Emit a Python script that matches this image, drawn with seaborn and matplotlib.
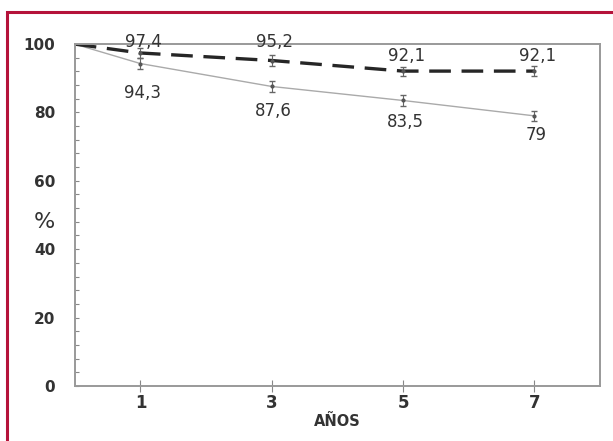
import numpy as np
import pandas as pd
import matplotlib
matplotlib.use("Agg")
import matplotlib.pyplot as plt
from matplotlib.patches import Rectangle
from matplotlib.ticker import MultipleLocator
import seaborn as sns

# survival data
years = [0, 1, 3, 5, 7]
dashed_vals = [100, 97.4, 95.2, 92.1, 92.1]
solid_vals = [100, 94.3, 87.6, 83.5, 79]
dashed_err = [0, 1.5, 1.5, 1.3, 1.5]
solid_err = [0, 1.5, 1.5, 1.6, 1.5]
dashed_labels = ["", "97,4", "95,2", "92,1", "92,1"]
solid_labels = ["", "94,3", "87,6", "83,5", "79"]

sns.set_style("white")
plt.rcParams['font.family'] = ['DejaVu Sans']

df = pd.DataFrame({"years": years, "dashed": dashed_vals, "solid": solid_vals})

fig = plt.figure(figsize=(6.13, 4.41), dpi=100)
ax = fig.add_axes([0.122, 0.125, 0.857, 0.775])

sns.lineplot(data=df, x="years", y="solid", color="#aaaaaa", linewidth=1.0, ax=ax)
sns.lineplot(data=df, x="years", y="dashed", color="#262626", linewidth=2.4,
             dashes=False, ax=ax)
ax.lines[-1].set_dashes((6.5, 3.2))

ax.errorbar(years[1:], solid_vals[1:], yerr=solid_err[1:], fmt="o", ms=2,
            color="#555555", ecolor="#666666", elinewidth=0.8, capsize=2.5)
ax.errorbar(years[1:], dashed_vals[1:], yerr=dashed_err[1:], fmt="o", ms=2,
            color="#555555", ecolor="#666666", elinewidth=0.8, capsize=2.5)

# label offsets (pixels) so the numbers sit where the original puts them
dashed_off = [0, 11, 19, 15, 15]
solid_off = [0, -29, -25, -22, -19]
for x, y, t, o in zip(years, dashed_vals, dashed_labels, dashed_off):
    if t:
        ax.annotate(t, (x, y), xytext=(3, o), textcoords="offset pixels",
                    ha="center", va="center", fontsize=12, color="#333333")
for x, y, t, o in zip(years, solid_vals, solid_labels, solid_off):
    if t:
        ax.annotate(t, (x, y), xytext=(2, o), textcoords="offset pixels",
                    ha="center", va="center", fontsize=12, color="#333333")

ax.set_xlim(0, 8)
ax.set_ylim(0, 100)
ax.set_xticks([1, 3, 5, 7])
ax.set_yticks([0, 20, 40, 60, 80, 100])
ax.yaxis.set_minor_locator(MultipleLocator(4))
ax.tick_params(axis="x", bottom=True, direction="inout", length=8, width=0.8,
               color="#888888", labelsize=12, labelcolor="#333333", pad=2)
ax.tick_params(axis="y", which="both", left=True, direction="in", length=3,
               width=0.8, color="#888888", labelsize=11, labelcolor="#333333", pad=14)
for lab in ax.get_xticklabels() + ax.get_yticklabels():
    lab.set_fontweight("bold")

ax.set_xlabel("AÑOS", fontsize=10.5, fontweight="bold", color="#333333", labelpad=1)
ax.set_ylabel("%", fontsize=16, color="#333333", rotation=0, va="center")
ax.yaxis.set_label_coords(-0.058, 0.48)

for s in ax.spines.values():
    s.set_color("#999999")
    s.set_linewidth(1.4)

fig.patches.append(Rectangle((0.012, -0.1), 1.2, 0.1 + 0.972, transform=fig.transFigure,
                             fill=False, edgecolor="#b5123a", linewidth=2.2))

fig.savefig("out.png", dpi=100)
